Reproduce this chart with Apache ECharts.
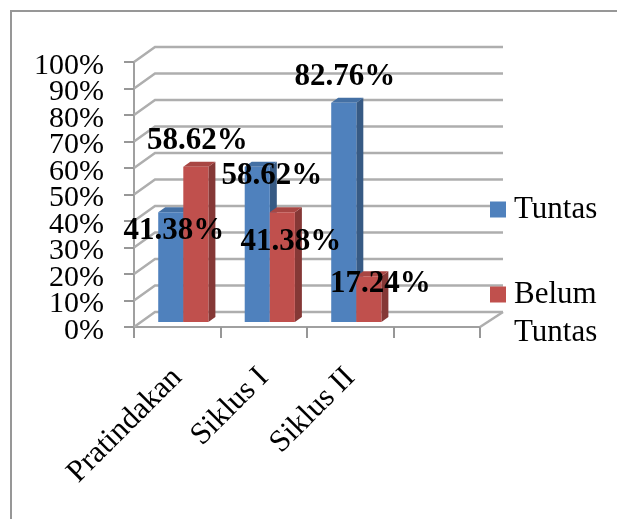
<!DOCTYPE html>
<html lang="id">
<head>
<meta charset="UTF-8">
<title>Ketuntasan</title>
<script src="https://cdnjs.cloudflare.com/ajax/libs/echarts/6.0.0/echarts.min.js"></script>
<style>
    html, body { margin: 0; padding: 0; background: #fff; overflow: hidden; }
    #frame { position: absolute; left: 10px; top: 10px; width: 620px; height: 520px; border: 2px solid #979797; box-sizing: border-box; }
    #Chart1 { position: absolute; left: 0; top: 0; width: 617px; height: 519px; }
</style>
</head>
<body>
<div id="frame"></div>
<div id="Chart1"></div>
<script>
const categories = ['Pratindakan', 'Siklus I', 'Siklus II', ''];
const tuntas = [41.38, 58.62, 82.76, null];
const belumTuntas = [58.62, 41.38, 17.24, null];
const tuntasLabels = ['41.38%', '58.62%', '82.76%', ''];
const belumLabels = ['58.62%', '41.38%', '17.24%', ''];
const yTicks = [0, 10, 20, 30, 40, 50, 60, 70, 80, 90, 100];

const FONT = '"Liberation Serif", "Times New Roman", serif';
const BLUE = '#4f81bd', RED = '#c0504d';
const DEPTH_X = 21, DEPTH_Y = -15;   // wall depth in px
const BAR_W = 0.29, GAP = 0.28;      // in category widths

// back wall lines plus the y tick label (axisLabel drops some when they are this tight)
function wallItem(params, api) {
    const v = api.value(0);
    const y = api.coord([0, v])[1];
    const cw = api.size([1, 0])[0];
    const left = api.coord([0, v])[0] - cw / 2;
    const right = left + cw * categories.length;
    const style = { stroke: '#aeaeae', lineWidth: 2.5, fill: 'none' };
    const kids = [
        { type: 'polyline', shape: { points: [[left, y], [left + DEPTH_X, y + DEPTH_Y], [right + DEPTH_X + 2, y + DEPTH_Y]] }, style: style },
        { type: 'text', x: left - 30, y: y + 4, style: { text: v + '%', font: '30px ' + FONT, fill: '#000', align: 'right', verticalAlign: 'middle' } }
    ];
    if (v === 0) {
        kids.push({ type: 'line', shape: { x1: right, y1: y, x2: right + DEPTH_X + 2, y2: y + DEPTH_Y }, style: style });
    }
    return { type: 'group', children: kids };
}

function barItem(seriesIndex) {
    return function (params, api) {
        const idx = api.value(0), val = api.value(1);
        if (val == null || isNaN(val)) return;
        const cw = api.size([1, 0])[0];
        const base = api.coord([idx, 0]);
        const top = api.coord([idx, val]);
        const w = cw * BAR_W;
        const x = base[0] - cw / 2 + cw * GAP + seriesIndex * w;
        const lift = 5;
        const by = base[1] - lift, ty = top[1] - lift;
        const dx = 7, dy = -5;
        const color = seriesIndex === 0 ? BLUE : RED;
        const side = seriesIndex === 0 ? '#375a84' : '#853836';
        const cap = seriesIndex === 0 ? '#4470a4' : '#a84643';
        return { type: 'group', children: [
            { type: 'polygon', shape: { points: [[x + w, by], [x + w + dx, by + dy], [x + w + dx, ty + dy], [x + w, ty]] }, style: { fill: side } },
            { type: 'polygon', shape: { points: [[x, ty], [x + dx, ty + dy], [x + w + dx, ty + dy], [x + w, ty]] }, style: { fill: cap } },
            { type: 'rect', shape: { x: x, y: ty, width: w, height: by - ty }, style: { fill: color } }
        ] };
    };
}

function labelItem(texts, dxs, dys) {
    return function (params, api) {
        const idx = api.value(0), val = api.value(1);
        if (val == null || isNaN(val)) return;
        const p = api.coord([idx, val]);
        return { type: 'text', x: p[0] + dxs[idx], y: p[1] + dys[idx], style: {
            text: texts[idx], fill: '#000', font: 'bold 31px ' + FONT, align: 'center', verticalAlign: 'middle'
        } };
    };
}

const tuntasDx = [-3.5, 8, -5.5], tuntasDy = [14, 4, -31];
const belumDx = [20, 27, 30], belumDy = [-31, 25, 3];

const chart = echarts.init(document.getElementById('Chart1'));
chart.setOption({
    animation: false,
    grid: { left: 134, top: 62, width: 346, height: 265 },
    legend: {
        orient: 'vertical', left: 490, top: 192, padding: 0, itemGap: 50, itemWidth: 16, itemHeight: 16,
        selectedMode: false, icon: 'rect',
        textStyle: { fontFamily: FONT, fontSize: 31, color: '#000', lineHeight: 35, padding: [0, 0, 0, 3] },
        formatter: function (name) { return name === 'Belum Tuntas' ? 'Belum' : name; },
        data: ['Tuntas', 'Belum Tuntas']
    },
    graphic: [
        { type: 'text', left: 514, top: 317, style: { text: 'Tuntas', font: '31px ' + FONT, fill: '#000' } }
    ],
    xAxis: {
        type: 'category', data: categories,
        axisLine: { lineStyle: { color: '#a0a0a0', width: 2 } },
        axisTick: { show: true, alignWithLabel: false, length: 11, lineStyle: { color: '#979797', width: 2 } },
        axisLabel: { interval: 0, rotate: 45, margin: 46, fontFamily: FONT, fontSize: 31, color: '#000' }
    },
    yAxis: {
        type: 'value', min: 0, max: 100, interval: 10,
        splitLine: { show: false },
        axisLine: { show: true, onZero: false, lineStyle: { color: '#a0a0a0', width: 2 } },
        axisTick: { show: true, length: 10, lineStyle: { color: '#979797', width: 2 } },
        axisLabel: { show: false }
    },
    series: [
        { type: 'custom', name: 'wall', silent: true, z: 1, data: yTicks.map(t => [t]), renderItem: wallItem, clip: false, encode: { y: 0 } },
        { type: 'custom', name: 'Tuntas', z: 2, clip: false, data: tuntas.map((v, i) => [i, v]), renderItem: barItem(0), encode: { x: 0, y: 1 }, itemStyle: { color: BLUE } },
        { type: 'custom', name: 'Belum Tuntas', z: 2, clip: false, data: belumTuntas.map((v, i) => [i, v]), renderItem: barItem(1), encode: { x: 0, y: 1 }, itemStyle: { color: RED } },
        { type: 'custom', name: 'lblA', silent: true, z: 5, clip: false, data: tuntas.map((v, i) => [i, v]), renderItem: labelItem(tuntasLabels, tuntasDx, tuntasDy), encode: { x: 0, y: 1 } },
        { type: 'custom', name: 'lblB', silent: true, z: 5, clip: false, data: belumTuntas.map((v, i) => [i, v]), renderItem: labelItem(belumLabels, belumDx, belumDy), encode: { x: 0, y: 1 } }
    ]
});
</script>
</body>
</html>
